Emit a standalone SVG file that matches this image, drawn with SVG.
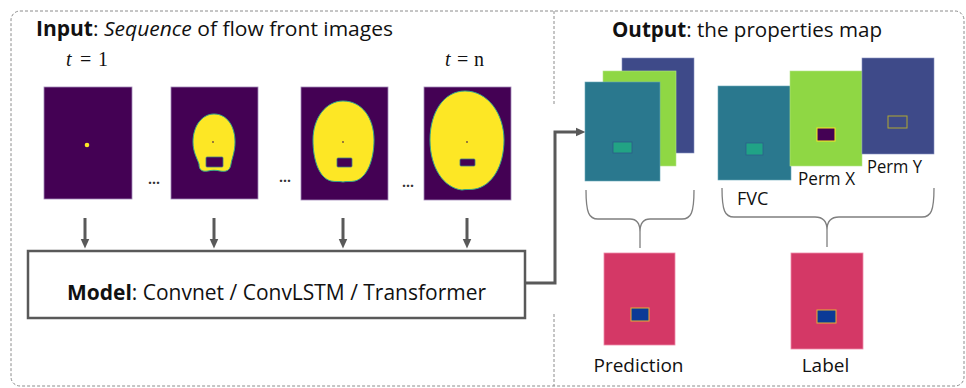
<svg xmlns="http://www.w3.org/2000/svg" width="966" height="388" viewBox="0 0 966 388">
<style>
  .sans { font-family: "Open Sans", "Liberation Sans", sans-serif; fill: #111; }
  .math { font-family: "Liberation Serif", "DejaVu Serif", serif; font-size: 20px; fill: #111; }
  .frame { fill: #440154; stroke: #a48ab8; stroke-width: 0.8; }
  .blob { fill: #fde725; stroke: #35a88a; stroke-width: 1; }
  .hole { fill: #440154; stroke: #3f7f86; stroke-width: 0.8; }
  .arrow { stroke: #595959; stroke-width: 3; fill: none; }
  .dash { fill: none; stroke: #8c8c8c; stroke-width: 1; stroke-dasharray: 3 2; }
  .brace { fill: none; stroke: #7f7f7f; stroke-width: 1.3; }
  .dots { font-family: "Open Sans", "Liberation Sans", sans-serif; font-size: 14px; font-weight: bold; fill: #333; }
  .teal { fill: #2a788e; stroke: #6aa8b8; stroke-width: 0.6; }
  .green { fill: #8fd744; stroke: #b5e38a; stroke-width: 0.6; }
  .blue { fill: #3e4a89; stroke: #8890c0; stroke-width: 0.6; }
  .pink { fill: #d43866; stroke: #ee8aa8; stroke-width: 0.8; }
</style>
<defs>
  <marker id="head" markerUnits="userSpaceOnUse" markerWidth="10" markerHeight="10" viewBox="0 0 10 10" refX="1.5" refY="5" orient="auto">
    <path d="M0,0.5 L10,5 L0,9.5 Z" fill="#595959"/>
  </marker>
</defs>
<rect width="966" height="388" fill="#ffffff"/>

<g id="panels">
  <rect class="dash" x="11" y="11" width="953" height="375" rx="9" ry="9"/>
  <line class="dash" x1="554" y1="11" x2="554" y2="106"/>
  <line class="dash" x1="554" y1="314" x2="554" y2="386"/>
</g>

<g id="input-title">
  <text class="sans" x="36" y="36" font-size="20.5" textLength="357" lengthAdjust="spacingAndGlyphs"><tspan font-weight="bold">Input</tspan>: <tspan font-style="italic">Sequence</tspan> of flow front images</text>
</g>
<g id="t1">
  <text class="math" x="66" y="66"><tspan font-style="italic">t</tspan></text>
  <text class="math" x="80" y="66">=</text>
  <text class="math" x="98" y="66">1</text>
</g>
<g id="tn">
  <text class="math" x="445" y="66"><tspan font-style="italic">t</tspan></text>
  <text class="math" x="457" y="66">=</text>
  <text class="math" x="474" y="66">n</text>
</g>

<g id="image1">
  <rect class="frame" x="44" y="87" width="88" height="112"/>
  <circle cx="87" cy="145" r="2.3" fill="#fde725"/>
</g>
<g id="image2">
  <rect class="frame" x="171" y="87" width="87" height="112"/>
  <path class="blob" d="M214,114 C227,114 235,126 235,142 C235,152 232,158 231,164 C230,171 226,172 220,171 C216,170 212,170 208,171 C202,172 199,170 199,164 C197,158 193,152 193,142 C193,126 202,114 214,114 Z"/>
  <rect class="hole" x="206" y="157" width="17" height="10" rx="1"/>
  <circle cx="213" cy="142" r="0.9" fill="#6a4a40"/>
</g>
<g id="image3">
  <rect class="frame" x="301" y="87" width="87" height="113"/>
  <path class="blob" d="M343,101 C362,101 374,118 374,140 C374,160 367,178 355,181 C350,182 347,181 343,182 C339,181 336,182 331,181 C319,178 313,160 313,140 C313,118 326,101 343,101 Z"/>
  <rect class="hole" x="337" y="158" width="15" height="9" rx="1"/>
  <circle cx="343" cy="142" r="0.9" fill="#6a4a40"/>
</g>
<g id="image4">
  <rect class="frame" x="424" y="87" width="87" height="113"/>
  <path class="blob" d="M465,91 C488,91 504,114 504,140 C504,166 492,186 475,189 C470,190 466,189 462,190 C444,188 430,168 430,140 C430,112 444,91 465,91 Z"/>
  <rect class="hole" x="460" y="159" width="15" height="7" rx="1"/>
  <circle cx="467" cy="142" r="0.9" fill="#6a4a40"/>
</g>
<g id="ellipses">
  <text class="dots" x="148" y="184">...</text>
  <text class="dots" x="279" y="182">...</text>
  <text class="dots" x="402" y="187">...</text>
</g>

<g id="model">
  <rect x="28" y="251" width="497" height="67" fill="#ffffff" stroke="#595959" stroke-width="2.5"/>
  <text class="sans" x="67" y="300" font-size="22" textLength="419" lengthAdjust="spacingAndGlyphs"><tspan font-weight="bold">Model</tspan>: Convnet / ConvLSTM / Transformer</text>
</g>

<g id="connectors">
  <line class="arrow" x1="85" y1="218" x2="85" y2="240" marker-end="url(#head)"/>
  <line class="arrow" x1="214" y1="218" x2="214" y2="240" marker-end="url(#head)"/>
  <line class="arrow" x1="343" y1="218" x2="343" y2="240" marker-end="url(#head)"/>
  <line class="arrow" x1="467" y1="218" x2="467" y2="240" marker-end="url(#head)"/>
  <path class="arrow" d="M526,283 H555 V132 H577" marker-end="url(#head)"/>
</g>

<g id="output-title">
  <text class="sans" x="612" y="37" font-size="20.5" textLength="270" lengthAdjust="spacingAndGlyphs"><tspan font-weight="bold">Output</tspan>: the properties map</text>
</g>

<g id="prediction-stack">
  <rect class="blue" x="622" y="58" width="72" height="95"/>
  <rect class="green" x="603" y="71" width="73" height="95"/>
  <rect class="teal" x="585" y="82" width="75" height="99"/>
  <rect x="613" y="142" width="19" height="11" fill="#22a384" stroke="#2c5a88" stroke-width="0.8"/>
</g>

<g id="fvc">
  <rect class="teal" x="718" y="86" width="73" height="94"/>
  <rect x="746" y="143" width="17" height="12" fill="#20a386" stroke="#2c5f8a" stroke-width="0.8"/>
  <text class="sans" x="737" y="205" font-size="18">FVC</text>
</g>
<g id="perm-x">
  <rect class="green" x="790" y="71" width="72" height="95"/>
  <rect x="817" y="128" width="18" height="13" fill="#440154" stroke="#fde725" stroke-width="1"/>
  <text class="sans" x="798" y="185" font-size="18" textLength="57" lengthAdjust="spacingAndGlyphs">Perm X</text>
</g>
<g id="perm-y">
  <rect class="blue" x="862" y="58" width="72" height="96"/>
  <rect x="888" y="116" width="19" height="12" fill="#3e4a89" stroke="#b0a830" stroke-width="1"/>
  <text class="sans" x="867" y="173" font-size="18" textLength="55" lengthAdjust="spacingAndGlyphs">Perm Y</text>
</g>

<g id="braces">
  <path class="brace" d="M586,190 C586,213 589,219 598,219 L630,219 C637,219 640,224 640,232 L640,248 M640,232 C640,224 643,219 650,219 L682,219 C691,219 694,213 694,190"/>
  <path class="brace" d="M722,188 C722,211 725,217 734,217 L815,217 C823,217 827,222 827,230 L827,247 M827,230 C827,222 831,217 839,217 L922,217 C931,217 934,211 934,188"/>
</g>

<g id="prediction">
  <rect class="pink" x="604" y="253" width="71" height="92"/>
  <rect x="631" y="308" width="18" height="13" fill="#0b3a96" stroke="#e8b030" stroke-width="1"/>
  <text class="sans" x="638.5" y="372" font-size="19" text-anchor="middle">Prediction</text>
</g>
<g id="label">
  <rect class="pink" x="791" y="253" width="72" height="96"/>
  <rect x="817" y="310" width="19" height="13" fill="#0b3a96" stroke="#e8b030" stroke-width="1"/>
  <text class="sans" x="825.5" y="372" font-size="19" text-anchor="middle">Label</text>
</g>
</svg>
